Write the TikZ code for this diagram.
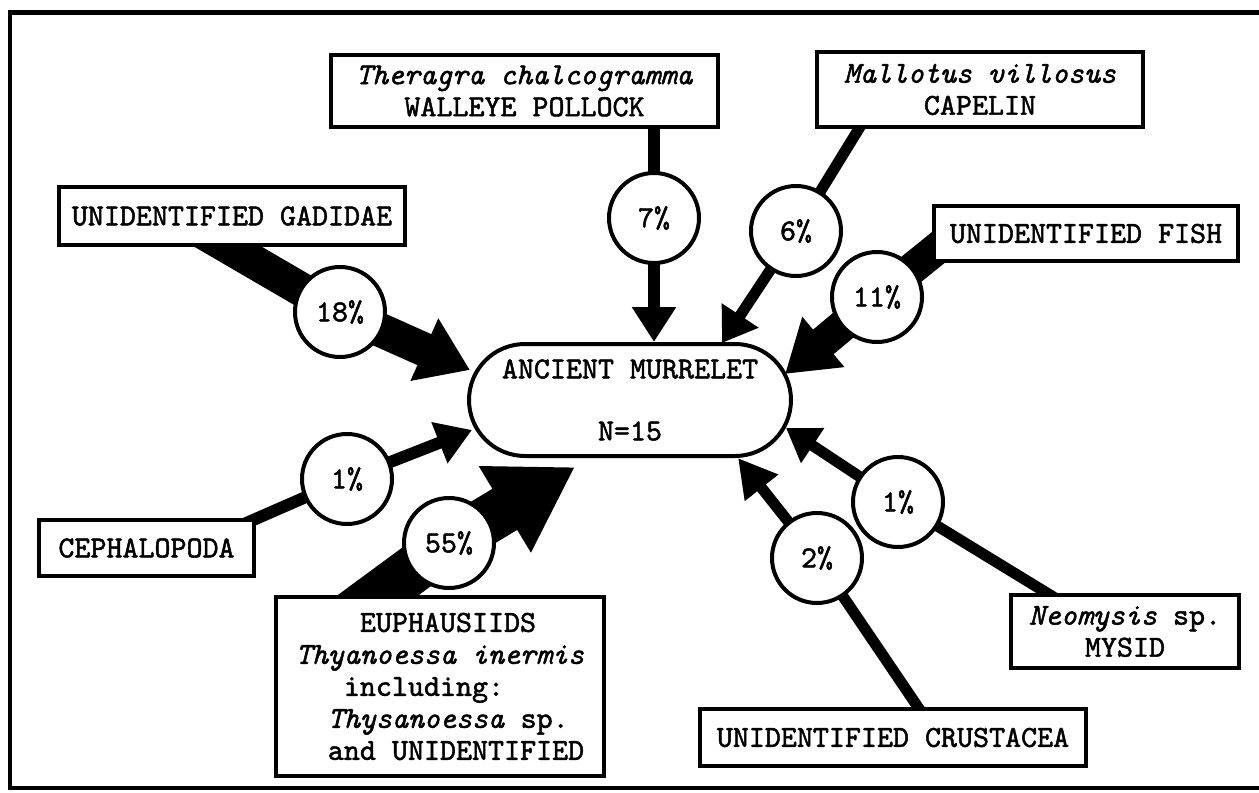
\documentclass[tikz,border=0pt]{standalone}
\usepackage{fontspec}
\usetikzlibrary{arrows.meta,shapes.misc}
% heavier typewriter face for all labels
\newfontfamily\typer{lmmono10-regular.otf}[FakeBold=1.6, ItalicFont=lmmono10-italic.otf]
\pgfdeclarelayer{flows}
\pgfsetlayers{flows,main}
\tikzset{
  tw/.style={font=\typer\fontsize{30.5bp}{32bp}\selectfont},
  taxon/.style={tw, draw, line width=4bp, fill=white, rectangle, inner sep=0pt, align=center},
  share/.style={tw, draw, line width=4bp, fill=white, circle, minimum size=90bp, inner sep=0pt},
  bird/.style={tw, draw, line width=4bp, fill=white, rounded rectangle,
    minimum width=322bp, minimum height=112bp, inner sep=0pt, align=center},
  flow/.style={line width=#1, line join=round},
  head/.style n args={2}{-{Triangle[length=#1 0, width=#2 0]}},
}
\begin{document}
\begin{tikzpicture}[x=1bp,y=-1bp]
\useasboundingbox (0,0) rectangle (1259,793);
% frame, open on the right
\draw[line width=4.5bp] (1259,12.5) -- (10,12.5) -- (10,788) -- (1259,788);

% predator
\node[bird] (murrelet) at (630,400) {ANCIENT MURRELET\\[30bp]N=15};

% prey groups
\node[taxon, minimum width=387bp, minimum height=72bp] (theragra) at (524.5,91)
  {\textit{Theragra chalcogramma}\\WALLEYE POLLOCK};
\node[taxon, minimum width=326bp, minimum height=75bp] (mallotus) at (980,89.5)
  {\textit{Mallotus villosus}\\CAPELIN};
\node[taxon, minimum width=346bp, minimum height=58bp] (gadidae) at (232,216)
  {UNIDENTIFIED GADIDAE};
\node[taxon, minimum width=304bp, minimum height=55bp] (fish) at (1086,233.5)
  {UNIDENTIFIED FISH};
\node[taxon, minimum width=215bp, minimum height=56bp] (cephalo) at (146.5,548)
  {CEPHALOPODA};
\node[taxon, minimum width=328bp, minimum height=179bp, align=left] (euph) at (440,686.5)
  {\phantom{XXXX}EUPHAUSIIDS\\
   \textit{Thyanoessa inermis}\\
   \phantom{XXX}including:\\
   \phantom{XX}\textit{Thysanoessa} sp.\\
   \phantom{XX}and UNIDENTIFIED};
\node[taxon, minimum width=386bp, minimum height=57bp] (crust) at (893,737.5)
  {UNIDENTIFIED CRUSTACEA};
\node[taxon, minimum width=228bp, minimum height=73bp] (mysid) at (1125,631.5)
  {\textit{Neomysis} sp.\\MYSID};

% percentages
\node[share] (c7)  at (654,218) {7\%};
\node[share] (c6)  at (796,231) {6\%};
\node[share] (c11) at (877,297) {11\%};
\node[share] (c18) at (340,312) {18\%};
\node[share] (c1l) at (347,479) {1\%};
\node[share] (c55) at (449,543) {55\%};
\node[share] (c2)  at (817,558) {2\%};
\node[share] (c1r) at (898,502) {1\%};

% flow start points (under the boxes) and arrow tips
\coordinate (s7)  at (theragra.south -| c7);
\coordinate (s6)  at (863,122);
\coordinate (s11) at (955,234);
\coordinate (s18) at (189,224);
\coordinate (s1l) at (244,524);
\coordinate (s55) at (343,621);
\coordinate (s2)  at (926,719);
\coordinate (s1r) at (1060,601);
\coordinate (t7)  at (c7 |- murrelet.north);
\coordinate (t6)  at (722,343);
\coordinate (t11) at (785,374);
\coordinate (t18) at (470,370);
\coordinate (t1l) at (472,430);
\coordinate (t55) at (575,467);
\coordinate (t2)  at (738,458);
\coordinate (t1r) at (786,428);

\begin{pgfonlayer}{flows}
\draw[flow=12bp, head={35bp}{42bp}] (s7) -- (c7.center) -- (t7);
\draw[flow=11bp, head={33bp}{42bp}] (s6) -- (c6.center) -- (t6);
\draw[flow=32bp, head={50bp}{62bp}] (s11) -- (c11.center) -- (t11);
\draw[flow=34bp, head={50bp}{65bp}] (s18) -- (c18.center) -- (t18);
\draw[flow=12bp, head={35bp}{42bp}] (s1l) -- (c1l.center) -- (t1l);
\draw[flow=48bp, head={82bp}{95bp}] (s55) -- (c55.center) -- (t55);
\draw[flow=11bp, head={38bp}{40bp}] (s2) -- (c2.center) -- (t2);
\draw[flow=11bp, head={32bp}{40bp}] (s1r) -- (c1r.center) -- (t1r);
\end{pgfonlayer}
\end{tikzpicture}
\end{document}
